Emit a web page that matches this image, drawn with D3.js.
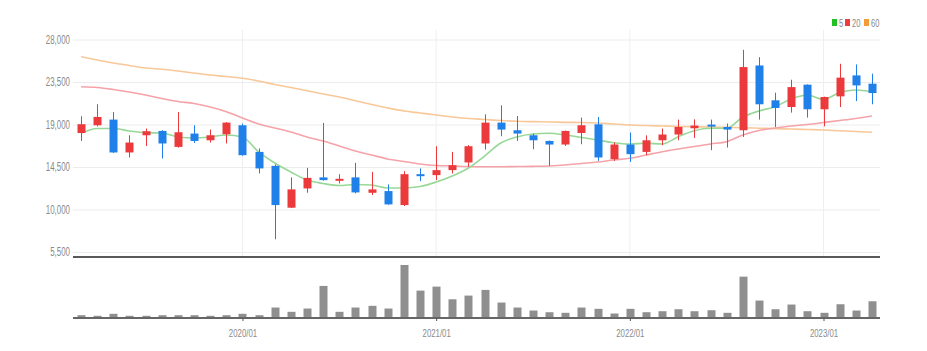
<!DOCTYPE html>
<html>
<head>
<meta charset="utf-8">
<script src="https://cdn.jsdelivr.net/npm/d3@7"></script>
<style>
  body { margin: 0; background: #fff; }
  text { font-family: "Liberation Sans Narrow", "Liberation Sans", Arial, sans-serif; }
</style>
</head>
<body>
<div id="chart-area"></div>
<script>
// monthly candles, 2019/03 .. 2023/04
var months = ["2019/03","2019/04","2019/05","2019/06","2019/07","2019/08","2019/09","2019/10","2019/11","2019/12",
  "2020/01","2020/02","2020/03","2020/04","2020/05","2020/06","2020/07","2020/08","2020/09","2020/10","2020/11","2020/12",
  "2021/01","2021/02","2021/03","2021/04","2021/05","2021/06","2021/07","2021/08","2021/09","2021/10","2021/11","2021/12",
  "2022/01","2022/02","2022/03","2022/04","2022/05","2022/06","2022/07","2022/08","2022/09","2022/10","2022/11","2022/12",
  "2023/01","2023/02","2023/03","2023/04"];

var opens  = [18100,18920,19520,16040,17860,18320,16630,18040,17330,17970,18920,16100,14620,10190,12230,13400,13110,13400,11770,11950,10470,13740,
  13640,14170,14980,16990,19200,18390,17860,17260,16880,18100,19020,15330,16880,16100,17330,17940,18600,18990,18740,18390,25250,21560,20850,23220,20610,21980,24200,23320];
var closes = [19030,19800,16040,17090,18290,16990,18180,17260,17860,19200,15750,14350,10470,12130,13350,13110,13250,11810,12130,10540,13740,13530,
  14170,14690,16700,19200,18460,18040,17330,16880,18320,18920,15510,16880,15860,17330,17940,18740,18890,18780,18460,25080,21140,20750,22960,20610,21910,23960,23140,22330];
var highs  = [19870,21140,20320,17860,18570,18400,20320,18920,18460,19250,19100,16460,14770,13400,14410,19160,13740,14940,13990,12660,14060,14350,
  16700,16100,16810,20080,21030,19900,18040,17300,18350,19730,19800,17090,18150,17860,18570,19520,19550,19520,19100,26910,26130,22370,23740,23250,21950,25430,25360,24380];
var lows   = [17260,18800,16000,15510,16730,15400,16550,17050,17090,16990,15700,13820,6850,10150,11770,13050,12760,11710,11530,10500,10370,13000,
  13110,13820,14520,16350,17760,17260,16380,14620,16730,16910,15150,15150,15040,15750,16810,17330,17580,16280,16560,17680,19520,18740,20260,19730,18810,20850,21480,21140];

var ma5  = [18070,18580,18580,18310,18130,18100,17680,17570,17680,17890,17680,16090,14920,13970,13120,12750,12540,12650,12590,12280,12280,12430,
  12910,13550,14390,15660,17040,17680,17990,18070,17890,17620,17360,17070,16940,17010,16940,17710,18340,18600,18600,19790,20430,20890,21700,22120,21670,22370,22650,22470];
var ma20 = [23000,22920,22710,22440,22120,21750,21440,21220,20850,20360,19690,19050,18630,18210,17680,17250,16720,16190,15770,15350,15080,14820,
  14660,14610,14550,14530,14530,14550,14570,14610,14710,14870,15030,15240,15420,15770,16120,16410,16670,16940,17180,17890,18370,18630,18840,19000,19210,19420,19640,19900];
var ma60 = [26180,25830,25510,25250,24980,24850,24670,24450,24240,24080,23890,23610,23240,22920,22580,22230,21910,21520,21120,20750,20430,20220,
  20010,19790,19640,19530,19420,19340,19300,19270,19230,19210,19160,19050,18950,18890,18840,18790,18760,18740,18700,18660,18610,18560,18520,18470,18420,18340,18260,18170];

var volumes = [46000,34000,74000,34000,34000,46000,46000,46000,34000,46000,74000,46000,200000,114000,180000,634000,114000,200000,234000,180000,1054000,540000,
  620000,366000,440000,554000,300000,200000,140000,106000,94000,200000,174000,80000,174000,106000,126000,166000,126000,146000,94000,820000,340000,166000,260000,126000,94000,266000,140000,326000];

var yTicks = [5500, 10000, 14500, 19000, 23500, 28000];
var xTicks = ["2020/01", "2021/01", "2022/01", "2023/01"];
var maNames = ["5", "20", "60"];

var width = 927, height = 351;
var left = 73, right = 880;
var upColor = "#ec3a3c", downColor = "#1f80ea";
var maColors = ["#97d897", "#f5a3a8", "#f8c898"];
var legendColors = ["#22c022", "#f03c3c", "#f59b38"];

// the reference uses a condensed face; squeeze the regular one
function narrow(sel, f) {
    sel.each(function() {
        var w = this.getComputedTextLength();
        d3.select(this).attr("textLength", w * f).attr("lengthAdjust", "spacingAndGlyphs");
    });
}

var svg = d3.select('#chart-area')
    .append('svg')
        .attr('width', width)
        .attr('height', height);

var x = d3.scalePoint().domain(months).range([left, right]).padding(0.5);
var y = d3.scaleLinear().domain([5500, 28000]).range([252, 39.5]);
var v = d3.scaleLinear().domain([0, 1054000]).range([317.5, 265]);

// grid + y axis
var leftAxis = d3.axisLeft(y).tickValues(yTicks).tickFormat(d3.format(",")).tickSize(-(right - left)).tickPadding(3);
var ga = svg.append("g")
    .attr("class", "left axis")
    .attr("transform", "translate(" + left + ",0)")
    .call(leftAxis);
ga.select(".domain").remove();
ga.selectAll("line").attr("stroke", "#ececec");
ga.selectAll("text").attr("fill", "#8a8a8a").attr("font-size", "12px").call(narrow, 0.66);

// vertical year grid lines
svg.append("g").selectAll("line")
    .data(xTicks)
    .enter().append("line")
        .attr("x1", (d) => x(d)).attr("x2", (d) => x(d))
        .attr("y1", 30).attr("y2", 257)
        .attr("stroke", "#efefef");

// moving averages
var mas = [ma5, ma20, ma60];
var line = d3.line().x((d, i) => x(months[i])).y((d) => y(d)).curve(d3.curveMonotoneX);
[2, 1, 0].forEach((k) => {
    svg.append("path")
        .attr("d", line(mas[k]))
        .attr("fill", "none")
        .attr("stroke", maColors[k])
        .attr("stroke-width", 1.6);
});

// candles
var idx = d3.range(months.length);
var candles = svg.append("g").selectAll("g").data(idx).enter().append("g");
candles.append("line")
    .attr("x1", (i) => Math.round(x(months[i])) + 0.5)
    .attr("x2", (i) => Math.round(x(months[i])) + 0.5)
    .attr("y1", (i) => y(highs[i]))
    .attr("y2", (i) => y(lows[i]))
    .attr("stroke", (i) => closes[i] >= opens[i] ? upColor : downColor)
    .attr("stroke-width", 1);
candles.append("rect")
    .attr("x", (i) => Math.round(x(months[i])) - 3.5)
    .attr("width", 8)
    .attr("y", (i) => y(Math.max(opens[i], closes[i])))
    .attr("height", (i) => Math.max(2, Math.abs(y(opens[i]) - y(closes[i]))))
    .attr("fill", (i) => closes[i] >= opens[i] ? upColor : downColor);

// separator between panels
svg.append("line")
    .attr("x1", left).attr("x2", right)
    .attr("y1", 257).attr("y2", 257)
    .attr("stroke", "#222").attr("stroke-width", 1.6);

// volume bars
svg.append("g").selectAll("rect")
    .data(volumes)
    .enter().append("rect")
        .attr("x", (d, i) => Math.round(x(months[i])) - 3.5)
        .attr("width", 8)
        .attr("y", (d) => v(d))
        .attr("height", (d) => 317.5 - v(d))
        .attr("fill", "#8f8f8f");

var bottomAxis = d3.axisBottom(x).tickValues(xTicks).tickSize(3).tickPadding(9);
var gb = svg.append("g")
    .attr("class", "bottom axis")
    .attr("transform", "translate(0,318)")
    .call(bottomAxis);
gb.select(".domain").attr("stroke", "#666").attr("stroke-width", 2).attr("d", "M" + left + ",0H" + right);
gb.selectAll("line").attr("stroke", "#555");
gb.selectAll("text").attr("fill", "#8a8a8a").attr("font-size", "10px").call(narrow, 0.78);

// legend
var legend = svg.append("g").attr("transform", "translate(832,23)");
var lx = [0, 13, 32];
maNames.forEach((n, k) => {
    legend.append("rect")
        .attr("x", lx[k]).attr("y", -4)
        .attr("width", 5).attr("height", 7)
        .attr("fill", legendColors[k]);
    legend.append("text")
        .attr("x", lx[k] + 7).attr("y", 3.5)
        .attr("font-size", "10px")
        .attr("fill", "#888")
        .text(n)
        .call(narrow, 0.75);
});
</script>
</body>
</html>
